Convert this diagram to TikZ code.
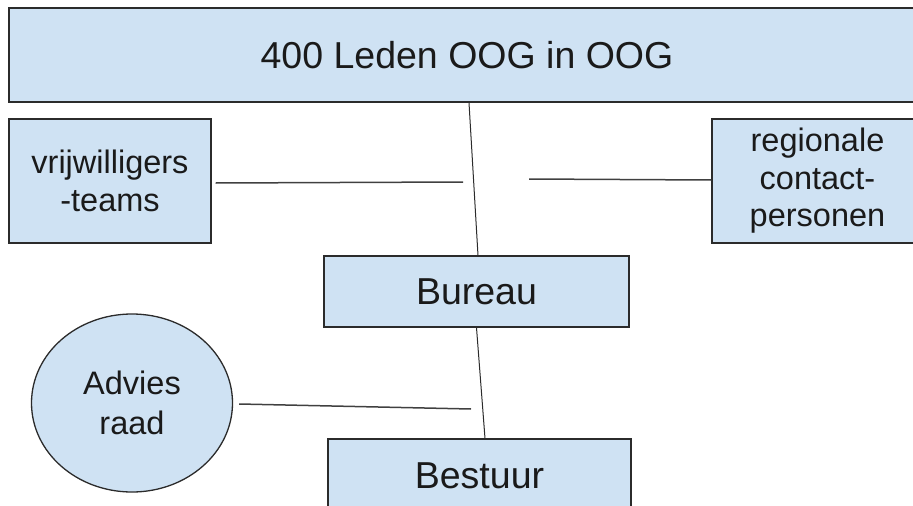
\documentclass[tikz,border=0pt]{standalone}
\usepackage{fontspec}
\setmainfont{Liberation Sans}
\usetikzlibrary{shapes.geometric}
\definecolor{boxfill}{HTML}{CFE2F3}
\definecolor{boxline}{HTML}{2B2B2B}
\definecolor{txt}{HTML}{1A1A1A}
\begin{document}
\begin{tikzpicture}[x=1pt,y=-1pt,
  box/.style={draw=boxline,fill=boxfill,line width=1.3pt,rectangle,inner sep=0pt,text=txt},
  big/.style={font=\fontsize{37.5}{40}\selectfont},
  small/.style={font=\fontsize{32.5}{37.5}\selectfont,align=center},
  conn/.style={draw=boxline,line width=1pt},
  hconn/.style={draw=boxline!90,line width=1.5pt}]
\useasboundingbox (0,0) rectangle (913,506);
\begin{scope}
\clip (0,0) rectangle (913,506);
\node[box,big,minimum width=916,minimum height=94] (top) at (467,55) {400 Leden OOG in OOG};
\node[box,small,minimum width=202,minimum height=124] (vrij) at (110,181) {vrijwilligers\\-teams};
\node[box,small,minimum width=211,minimum height=124] (reg) at (817.5,181) {regionale\\contact-\\personen};
\node[box,big,minimum width=305,minimum height=71] (bureau) at (476.5,291.5) {Bureau};
\node[box,big,minimum width=303,minimum height=73] (bestuur) at (479.5,475.5) {Bestuur};
\node[box,small,font=\fontsize{32.5}{39.5}\selectfont,ellipse,minimum width=201,minimum height=178] (advies) at (132,403) {Advies\\raad};
\coordinate (lend) at (463,182);
\coordinate (rend) at (529,179);
\coordinate (aend) at (471,409);
\draw[conn] ([xshift=2]top.south) -- ([xshift=1.5]bureau.north);
\draw[conn] (bureau.south) -- ([xshift=5.5]bestuur.north);
\draw[hconn] ([xshift=4,yshift=-2]vrij.east) -- (lend);
\draw[hconn] (rend) -- ([yshift=1]reg.west);
\draw[hconn] ([xshift=6,yshift=-1]advies.east) -- (aend);
\end{scope}
\end{tikzpicture}
\end{document}
